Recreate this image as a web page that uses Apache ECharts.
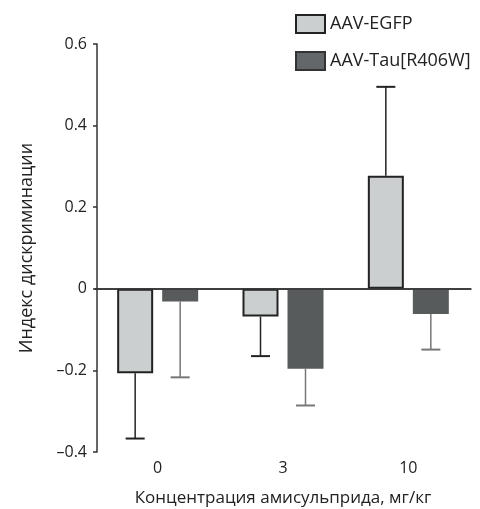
<!DOCTYPE html>
<html>
<head>
<meta charset="utf-8">
<script src="https://cdn.jsdelivr.net/npm/echarts@6/dist/echarts.min.js"></script>
<style>
  html, body { margin: 0; padding: 0; background: #fff; }
  #chart { width: 480px; height: 509px; }
</style>
</head>
<body>
<div id="chart"></div>
<script>
const categories = ['0', '3', '10'];
const egfpValues = [-0.207, -0.068, 0.277];
const egfpErrors = [0.16, 0.097, 0.218];
const tauValues = [-0.031, -0.196, -0.062];
const tauErrors = [0.186, 0.09, 0.087];
const yTicks = { min: -0.4, max: 0.6, interval: 0.2 };

const font = '"Open Sans", "Noto Sans", sans-serif';
const barW = 36;
const shift = 22.5; // bar centre offset from category centre

const errorSeries = (values, errors, side, color) => ({
  type: 'custom',
  silent: true,
  z: 1,
  data: values.map((v, i) => [i, v, errors[i]]),
  renderItem: (params, api) => {
    const v = api.value(1);
    const e = api.value(2);
    const end = v >= 0 ? v + e : v - e;
    const p0 = api.coord([api.value(0), v]);
    const p1 = api.coord([api.value(0), end]);
    const x = p0[0] + side * shift;
    const style = { stroke: color, lineWidth: 1.5 };
    return {
      type: 'group',
      children: [
        { type: 'line', shape: { x1: x, y1: p0[1], x2: x, y2: p1[1] }, style },
        { type: 'line', shape: { x1: x - 9.5, y1: p1[1], x2: x + 9.5, y2: p1[1] }, style: { stroke: color, lineWidth: 2 } }
      ]
    };
  }
});

const chart = echarts.init(document.getElementById('chart'));
const option = {
  animation: false,
  textStyle: { fontFamily: font },
  grid: { left: 95, right: 9, top: 44, bottom: 57, outerBoundsMode: 'none' },
  legend: {
    orient: 'vertical',
    left: 295,
    top: 14,
    padding: 0,
    itemWidth: 29,
    itemHeight: 18,
    itemGap: 17,
    textStyle: { fontSize: 18, color: '#222', fontFamily: font },
    data: [
      { name: 'AAV-EGFP', icon: 'rect', itemStyle: { color: '#cbcfd0', borderColor: '#222', borderWidth: 2 } },
      { name: 'AAV-Tau[R406W]', icon: 'rect', itemStyle: { color: '#63676a', borderColor: '#333', borderWidth: 2 } }
    ]
  },
  xAxis: {
    type: 'category',
    data: categories,
    name: 'Концентрация амисульприда, мг/кг',
    nameLocation: 'middle',
    nameGap: 38,
    nameTextStyle: { fontSize: 17, color: '#222' },
    axisLine: { show: true, lineStyle: { color: '#333', width: 1.5 } },
    axisTick: { show: false },
    axisLabel: { fontSize: 16, color: '#222', margin: 8 }
  },
  yAxis: {
    type: 'value',
    min: yTicks.min,
    max: yTicks.max,
    interval: yTicks.interval,
    offset: -2,
    name: 'Индекс дискриминации',
    nameLocation: 'middle',
    nameGap: 61,
    nameTextStyle: { fontSize: 18, color: '#222' },
    axisLine: { show: true, lineStyle: { color: '#333', width: 1.5 } },
    axisTick: { show: true, inside: false, length: 4, lineStyle: { color: '#333', width: 1.5 } },
    splitLine: { show: false },
    axisLabel: {
      fontSize: 16,
      color: '#222',
      margin: 10,
      formatter: v => (Math.abs(v) < 1e-9 ? '0' : String(+v.toFixed(1)).replace('-', '–'))
    }
  },
  series: [
    {
      name: 'AAV-EGFP',
      type: 'bar',
      data: egfpValues,
      barWidth: barW,
      barGap: '25%',
      z: 2,
      itemStyle: { color: '#cbcfd0', borderColor: '#222', borderWidth: 2 },
      markLine: {
        silent: true,
        symbol: 'none',
        label: { show: false },
        lineStyle: { color: '#333', width: 1.5, type: 'solid' },
        data: [{ yAxis: 0 }]
      }
    },
    {
      name: 'AAV-Tau[R406W]',
      type: 'bar',
      data: tauValues,
      barWidth: barW,
      barGap: '25%',
      z: 2,
      itemStyle: { color: '#575b5c' }
    },
    errorSeries(egfpValues, egfpErrors, -1, '#222'),
    errorSeries(tauValues, tauErrors, 1, '#777')
  ]
};
chart.setOption(option);
</script>
</body>
</html>
